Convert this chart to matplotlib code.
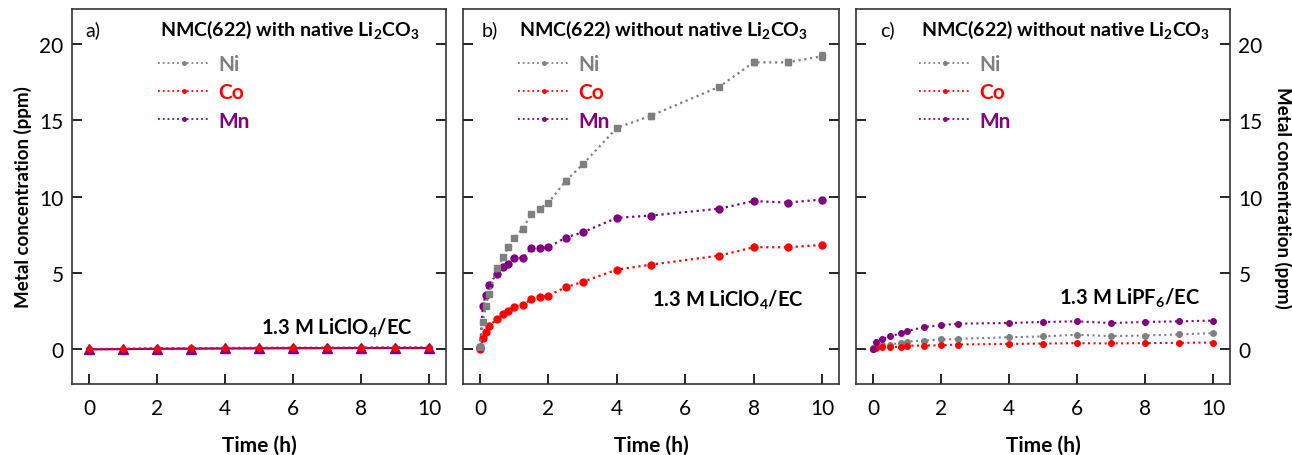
import matplotlib
matplotlib.use("Agg")
import matplotlib.pyplot as plt
from matplotlib.lines import Line2D

plt.rcParams['font.family'] = ['Lato', 'DejaVu Sans']
plt.rcParams['mathtext.fontset'] = 'custom'
plt.rcParams['mathtext.bf'] = 'Lato:bold'
plt.rcParams['mathtext.rm'] = 'Lato'

# ---------------- data ----------------
t_a = [0, 1, 2, 3, 4, 5, 6, 7, 8, 9, 10]
ni_a = [0.0, 0.02, 0.04, 0.05, 0.07, 0.09, 0.1, 0.1, 0.11, 0.12, 0.12]
co_a = [-0.02, 0.0, 0.02, 0.03, 0.04, 0.05, 0.05, 0.06, 0.06, 0.08, 0.07]
mn_a = [-0.03, -0.01, 0.01, 0.02, 0.03, 0.04, 0.05, 0.05, 0.06, 0.06, 0.06]

t_b = [0, 0.083, 0.167, 0.25, 0.5, 0.67, 0.83, 1, 1.25, 1.5, 1.75, 2, 2.5, 3, 4, 5, 7, 8, 9, 10]
ni_b = [0.1, 1.8, 2.8, 3.6, 5.3, 6.0, 6.7, 7.3, 7.9, 8.85, 9.2, 9.6, 11.0, 12.1, 14.5, 15.3, 17.2, 18.8, 18.8, 19.2]
co_b = [0.0, 0.7, 1.13, 1.49, 1.97, 2.3, 2.47, 2.78, 2.88, 3.28, 3.39, 3.5, 4.04, 4.4, 5.2, 5.53, 6.12, 6.67, 6.67, 6.82]
mn_b = [0.1, 2.84, 3.56, 4.22, 4.92, 5.4, 5.57, 5.97, 5.97, 6.6, 6.6, 6.67, 7.3, 7.65, 8.6, 8.75, 9.2, 9.7, 9.6, 9.8]
ni_b_err = [0, 0, 0, 0, 0, 0, 0, 0, 0, 0, 0, 0, 0.2, 0, 0.15, 0.2, 0.1, 0.2, 0.2, 0.25]

t_c = [0, 0.083, 0.25, 0.5, 0.83, 1, 1.5, 2, 2.5, 4, 5, 6, 7, 8, 9, 10]
ni_c = [0.05, 0.2, 0.26, 0.29, 0.4, 0.48, 0.55, 0.62, 0.66, 0.77, 0.82, 0.93, 0.84, 0.88, 0.95, 1.04]
co_c = [0.0, 0.05, 0.11, 0.12, 0.15, 0.22, 0.22, 0.24, 0.29, 0.33, 0.35, 0.38, 0.36, 0.38, 0.4, 0.42]
mn_c = [0.0, 0.44, 0.62, 0.82, 1.04, 1.17, 1.44, 1.55, 1.66, 1.7, 1.77, 1.81, 1.7, 1.77, 1.81, 1.86]

labels = ['Ni', 'Co', 'Mn']
colors = ['#7f7f7f', '#ff0000', '#800080']
xticks = [0, 2, 4, 6, 8, 10]
yticks = [0, 5, 10, 15, 20]

fig = plt.figure(figsize=(12.92, 4.56), dpi=100)
W, H = 1292, 456
def box(l, r, t=10, b=385):
    return [l / W, 1 - b / H, (r - l) / W, (b - t) / H]

axa = fig.add_axes(box(72, 446))
axb = fig.add_axes(box(463, 839))
axc = fig.add_axes(box(856, 1230))

for ax in (axa, axb, axc):
    ax.set_xlim(-0.5, 10.5)
    ax.set_ylim(-2.3, 22.3)
    ax.set_xticks(xticks)
    ax.set_yticks(yticks)
    ax.tick_params(direction='in', length=7, width=1.2, labelsize=15,
                   left=True, right=True, top=False, bottom=True)
    ax.tick_params(axis='x', pad=10)
    ax.tick_params(axis='y', pad=6)
    for s in ax.spines.values():
        s.set_linewidth(1.2)
        s.set_color('#333333')
    ax.set_xlabel('Time (h)', fontsize=15, fontweight='bold', labelpad=12)

axb.tick_params(labelleft=False)
axc.tick_params(labelleft=False, labelright=True)
axa.set_ylabel('Metal concentration (ppm)', fontsize=13.5, fontweight='bold', labelpad=5)
axc.yaxis.set_label_position('right')
axc.set_ylabel('Metal concentration (ppm)', fontsize=13.5, fontweight='bold',
               rotation=-90, labelpad=21)

# panel a
axa.plot(t_a, ni_a, ls=':', color=colors[0], lw=1.5, marker='o', ms=4)
axa.plot(t_a, mn_a, ls='-', color=colors[2], lw=1.6, marker='^', ms=7)
axa.plot(t_a, co_a, ls=':', color=colors[1], lw=1.5, marker='o', ms=4)

# panel b
axb.errorbar(t_b, ni_b, yerr=ni_b_err, ls=':', color=colors[0], lw=1.6, marker='s', ms=4,
             capsize=2, elinewidth=1)
axb.plot(t_b, co_b, ls=':', color=colors[1], lw=1.6, marker='o', ms=5)
axb.plot(t_b, mn_b, ls=':', color=colors[2], lw=1.6, marker='o', ms=5)

# panel c
axc.plot(t_c, ni_c, ls=':', color=colors[0], lw=1.5, marker='o', ms=4)
axc.plot(t_c, co_c, ls=':', color=colors[1], lw=1.5, marker='o', ms=4)
axc.plot(t_c, mn_c, ls=':', color=colors[2], lw=1.5, marker='o', ms=4)

titles = [r'NMC(622) with native Li$_\mathbf{2}$CO$_\mathbf{3}$',
          r'NMC(622) without native Li$_\mathbf{2}$CO$_\mathbf{3}$',
          r'NMC(622) without native Li$_\mathbf{2}$CO$_\mathbf{3}$']
letters = ['a)', 'b)', 'c)']
letter_x = [0.035, 0.05, 0.064]
title_x = [0.235, 0.149, 0.173]
leg_x = [0.23, 0.147, 0.168]
notes = [r'1.3 M LiClO$_\mathbf{4}$/EC', r'1.3 M LiClO$_\mathbf{4}$/EC', r'1.3 M LiPF$_\mathbf{6}$/EC']
note_xy = [(0.912, 0.152), (0.907, 0.227), (0.92, 0.232)]

for i, ax in enumerate((axa, axb, axc)):
    ax.text(letter_x[i], 0.947, letters[i], transform=ax.transAxes, fontsize=14,
            va='center', ha='left')
    ax.text(title_x[i], 0.947, titles[i], transform=ax.transAxes, fontsize=14,
            fontweight='bold', va='center', ha='left')
    ax.text(note_xy[i][0], note_xy[i][1], notes[i], transform=ax.transAxes, fontsize=14.5,
            fontweight='bold', va='center', ha='right')
    handles = [Line2D([0, 1, 2], [0, 0, 0], ls=':', color=c, lw=1.3, marker='o', ms=2.5,
                      markevery=[1]) for c in colors]
    leg = ax.legend(handles, labels, loc='upper left', bbox_to_anchor=(leg_x[i], 0.88),
                    frameon=False, handlelength=2.5, handletextpad=0.4, labelspacing=0.4,
                    borderpad=0, borderaxespad=0, prop={'weight': 'bold', 'size': 15})
    for txt, c in zip(leg.get_texts(), colors):
        txt.set_color(c)

fig.savefig('out.png', dpi=100)
